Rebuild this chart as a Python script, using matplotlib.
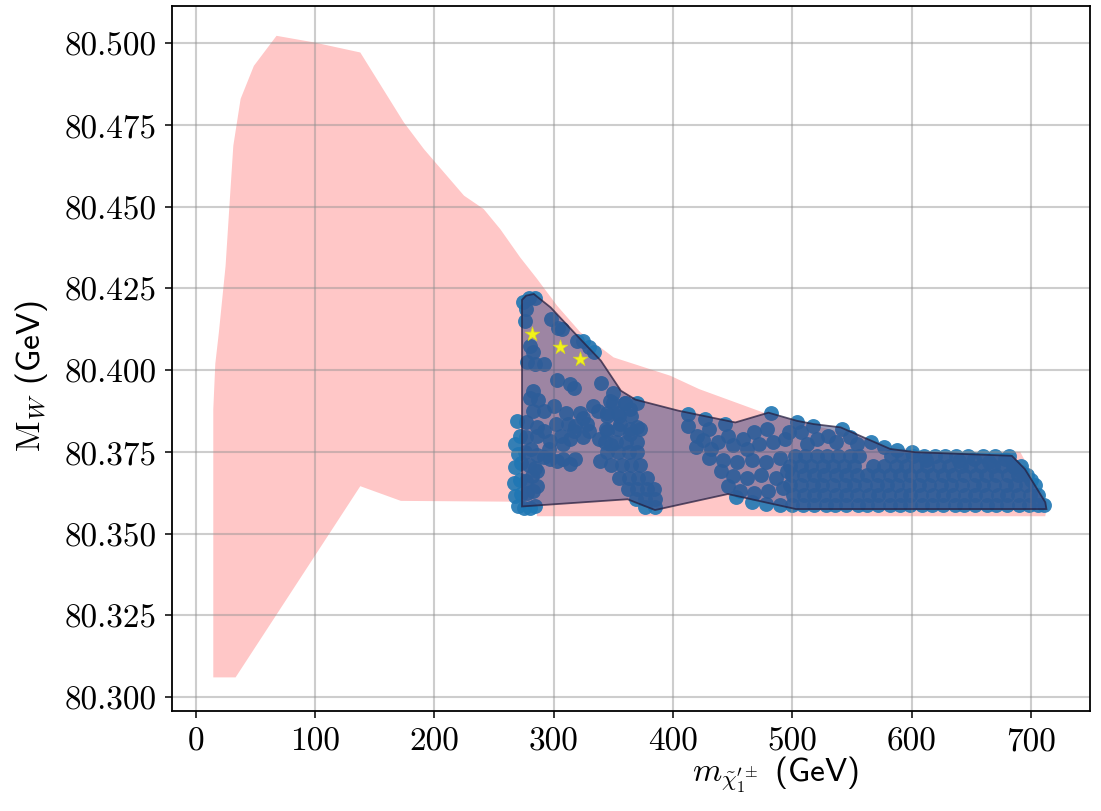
import numpy as np
import matplotlib
matplotlib.use("Agg")
import matplotlib.pyplot as plt
from matplotlib.patches import Polygon

plt.rcParams['mathtext.fontset'] = 'cm'
plt.rcParams['font.family'] = ['cmss10', 'DejaVu Sans']
plt.rcParams['axes.unicode_minus'] = False

# ---------------- data ----------------
# allowed (pink) band
band_x = [14.8, 14.8, 16.5, 19.5, 25.1, 28.7, 31.6, 37.7, 48.8, 67.8, 99, 138, 174.5, 191.4,
          224.9, 241.4, 255.4, 272, 286, 303, 322.4, 350.3, 397.8, 422, 476, 607, 691, 714,
          712, 286, 286, 172, 138, 33.5]
band_y = [80.306, 80.388, 80.402, 80.4116, 80.4319, 80.4524, 80.4687, 80.483, 80.4931, 80.5023,
          80.5003, 80.4972, 80.4758, 80.4676, 80.4534, 80.4493, 80.4431, 80.4345, 80.428, 80.4197,
          80.4116, 80.4039, 80.3983, 80.3942, 80.387, 80.3749, 80.375, 80.3596, 80.3553, 80.3553,
          80.3597, 80.360, 80.3645, 80.306]

# outline of the scan points
hull_x = [273.5, 273.5, 277, 283.4, 297.5, 319.8, 339.6, 356.4, 368.5, 404.6, 452.3, 480, 503.9,
          517.9, 540.5, 582, 603, 684, 695, 712, 713, 503, 446, 385, 362]
hull_y = [80.3583, 80.4215, 80.4228, 80.4233, 80.4192, 80.4105, 80.4029, 80.3937, 80.391, 80.3876,
          80.384, 80.387, 80.3845, 80.3835, 80.3825, 80.3759, 80.3749, 80.3738, 80.3697, 80.3596,
          80.3575, 80.3575, 80.3621, 80.3572, 80.3605]

# scan points (cluster by cluster)
top_x = [274, 279, 284, 277, 276, 298, 304, 307, 320, 325, 330, 334, 280, 283, 278, 284, 292,
         303, 314, 317, 283, 280, 287, 347, 340, 350, 360]
top_y = [80.4210, 80.4222, 80.4220, 80.4188, 80.4150, 80.4157, 80.4130, 80.4125, 80.4090, 80.4090,
         80.4070, 80.4055, 80.4075, 80.4055, 80.4025, 80.4020, 80.4020, 80.3970, 80.3958, 80.3945,
         80.3937, 80.3915, 80.3910, 80.3906, 80.3960, 80.3930, 80.3900]

mid_x = [269, 268, 272, 283, 292, 277, 286, 277, 286, 297, 300, 310, 306, 308, 314, 317, 318, 322,
         325, 333, 337, 325, 345, 345, 356, 364, 370, 354, 364, 292, 286, 297, 303, 308, 314, 318,
         296, 339, 338, 348, 302, 312, 328, 292, 330]
mid_y = [80.3845, 80.3775, 80.3800, 80.3876, 80.3876, 80.3840, 80.3825, 80.3794, 80.3799, 80.3784,
         80.3890, 80.3870, 80.3800, 80.3774, 80.3789, 80.3814, 80.3829, 80.3870, 80.3855, 80.3891,
         80.3876, 80.3795, 80.3815, 80.3870, 80.3835, 80.3805, 80.3825, 80.3870, 80.3880, 80.3733,
         80.3740, 80.3728, 80.3723, 80.3728, 80.3713, 80.3728, 80.3760, 80.3723, 80.3790, 80.3770,
         80.3835, 80.3835, 80.3835, 80.3815, 80.3815]

streak_x = [350, 360, 370, 345, 355, 365, 344, 354, 364, 372, 343, 352, 361, 370, 345, 354, 363,
            370, 348, 357, 365, 372, 355, 363, 371, 378, 362, 370, 378, 384, 369, 377, 385, 377, 385]
streak_y = [80.390, 80.390, 80.390, 80.386, 80.386, 80.386, 80.382, 80.382, 80.382, 80.382,
            80.378, 80.378, 80.378, 80.378, 80.375, 80.375, 80.375, 80.375, 80.371, 80.371,
            80.371, 80.371, 80.367, 80.367, 80.367, 80.367, 80.3635, 80.3635, 80.3635, 80.3635,
            80.3605, 80.3605, 80.3605, 80.358, 80.358]

col_x = [270, 275, 280, 284, 268, 273, 278, 283, 267, 272, 277, 282, 268, 273, 279, 284, 270, 276,
         281, 286, 286]
col_y = [80.3585, 80.3578, 80.3578, 80.3585, 80.3615, 80.3620, 80.3625, 80.3630, 80.3655, 80.3665,
         80.3660, 80.3675, 80.3705, 80.3715, 80.3710, 80.3700, 80.3745, 80.3750, 80.3760, 80.3690,
         80.3645]

cl4_x = [413, 427, 444, 413, 420, 430, 446, 425, 419, 432, 459, 438, 450, 462, 472, 484, 494, 430,
         442, 454, 466, 478, 490, 440, 450, 462, 474, 486, 496, 446, 456, 468, 480, 492, 453, 466,
         478, 490, 468, 479]
cl4_y = [80.3866, 80.3850, 80.3835, 80.3830, 80.3800, 80.3820, 80.3800, 80.3785, 80.3765, 80.3760,
         80.3790, 80.3780, 80.3770, 80.3760, 80.3775, 80.3780, 80.3790, 80.3730, 80.3725, 80.3720,
         80.3725, 80.3720, 80.3730, 80.3690, 80.3675, 80.3670, 80.3680, 80.3670, 80.3690, 80.3645,
         80.3630, 80.3625, 80.3630, 80.3640, 80.3612, 80.3598, 80.3592, 80.3588, 80.3810, 80.3820]

edge_x = [482, 504, 517, 542, 577, 507, 521, 537, 554, 530, 548, 566, 588, 497, 512, 620, 652, 678,
          692, 600, 612, 640, 665, 686, 700]
edge_y = [80.3870, 80.3840, 80.3830, 80.3820, 80.3765, 80.3810, 80.3790, 80.3780, 80.3775, 80.3800,
          80.3795, 80.3780, 80.3755, 80.3810, 80.3775, 80.3738, 80.3728, 80.3728, 80.3687, 80.3750,
          80.3725, 80.3722, 80.3718, 80.3705, 80.3665]

# dense band of points between 500 and 712 GeV, one x list per level
dense_levels = [80.3588, 80.3618, 80.3648, 80.3678, 80.3708, 80.3738]
dense_rows_x = [
    [500, 509, 518, 528, 536, 545, 555, 563, 572, 582, 590, 599, 609, 617, 626, 636, 644, 653, 663,
     671, 680, 690, 698, 706, 711],
    [501, 510, 518, 527, 537, 545, 554, 564, 572, 581, 591, 599, 608, 618, 626, 635, 645, 653, 662,
     672, 680, 689, 699, 706],
    [498, 507, 517, 525, 534, 544, 552, 561, 571, 579, 588, 598, 606, 615, 625, 633, 642, 652, 660,
     669, 679, 687, 696, 703],
    [500, 510, 518, 527, 537, 545, 554, 563, 572, 582, 590, 599, 609, 617, 626, 635, 644, 654, 662,
     671, 681, 689, 697],
    [498, 507, 516, 526, 534, 543, 552, 568, 577, 587, 595, 604, 613, 623, 631, 641, 649, 658, 668,
     676, 685, 692],
    [502, 511, 521, 529, 538, 548, 556, 583, 592, 601, 610, 628, 637, 647, 660, 670, 682],
]

# benchmark points (stars)
star_x = [282, 305.5, 322.4]
star_y = [80.411, 80.407, 80.4034]

x_ticks = [0, 100, 200, 300, 400, 500, 600, 700]
y_ticks = [80.300, 80.325, 80.350, 80.375, 80.400, 80.425, 80.450, 80.475, 80.500]

# ---------------- figure ----------------
fig = plt.figure(figsize=(11.01, 8.12), dpi=100)
ax = fig.add_axes([0.156, 0.1235, 0.834, 0.8682])

ax.add_patch(Polygon(np.column_stack([band_x, band_y]), closed=True,
                     facecolor=(1.0, 0.0, 0.0, 0.22), edgecolor='none', zorder=1))

pts_x = top_x + mid_x + streak_x + col_x + cl4_x + edge_x
pts_y = top_y + mid_y + streak_y + col_y + cl4_y + edge_y
for lev, row in zip(dense_levels, dense_rows_x):
    pts_x = pts_x + row
    pts_y = pts_y + [lev] * len(row)
ax.scatter(pts_x, pts_y, s=115, color='#1f77b4', alpha=0.9, linewidths=0, zorder=2)

ax.add_patch(Polygon(np.column_stack([hull_x, hull_y]), closed=True,
                     facecolor=(60/255, 68/255, 128/255, 0.5),
                     edgecolor=(0.15, 0.12, 0.25, 0.75), lw=1.3, zorder=3))

ax.scatter(star_x, star_y, marker='*', s=120, color='#f2f21a', edgecolors='#d8d820',
           linewidths=0.5, zorder=5)

ax.set_xlim(-20, 749.5)
ax.set_ylim(80.2958, 80.5115)
ax.set_xticks(x_ticks)
ax.set_yticks(y_ticks)
ax.set_xticklabels([str(v) for v in x_ticks], fontfamily='cmr10', fontsize=24)
ax.set_yticklabels([f"{v:.3f}" for v in y_ticks], fontfamily='cmr10', fontsize=24)
ax.tick_params(axis='both', direction='out', length=5, width=1.1, color='black', pad=6)

ax.grid(True, color='#909090', alpha=0.45, lw=1.5)
ax.set_axisbelow(False)
for sp in ax.spines.values():
    sp.set_color('black')
    sp.set_linewidth(1.3)
    sp.set_zorder(6)

ax.set_ylabel(r"$\mathrm{M}_W$ (GeV)", fontsize=24, fontfamily='cmss10')
ax.set_xlabel(r"$m_{\tilde{\chi}_1^{\prime\pm}}$ (GeV)", fontsize=24, fontfamily='cmss10')
ax.yaxis.set_label_coords(-0.133, 0.476)
ax.xaxis.set_label_coords(0.657, -0.06)

fig.savefig("out.png", dpi=100)
